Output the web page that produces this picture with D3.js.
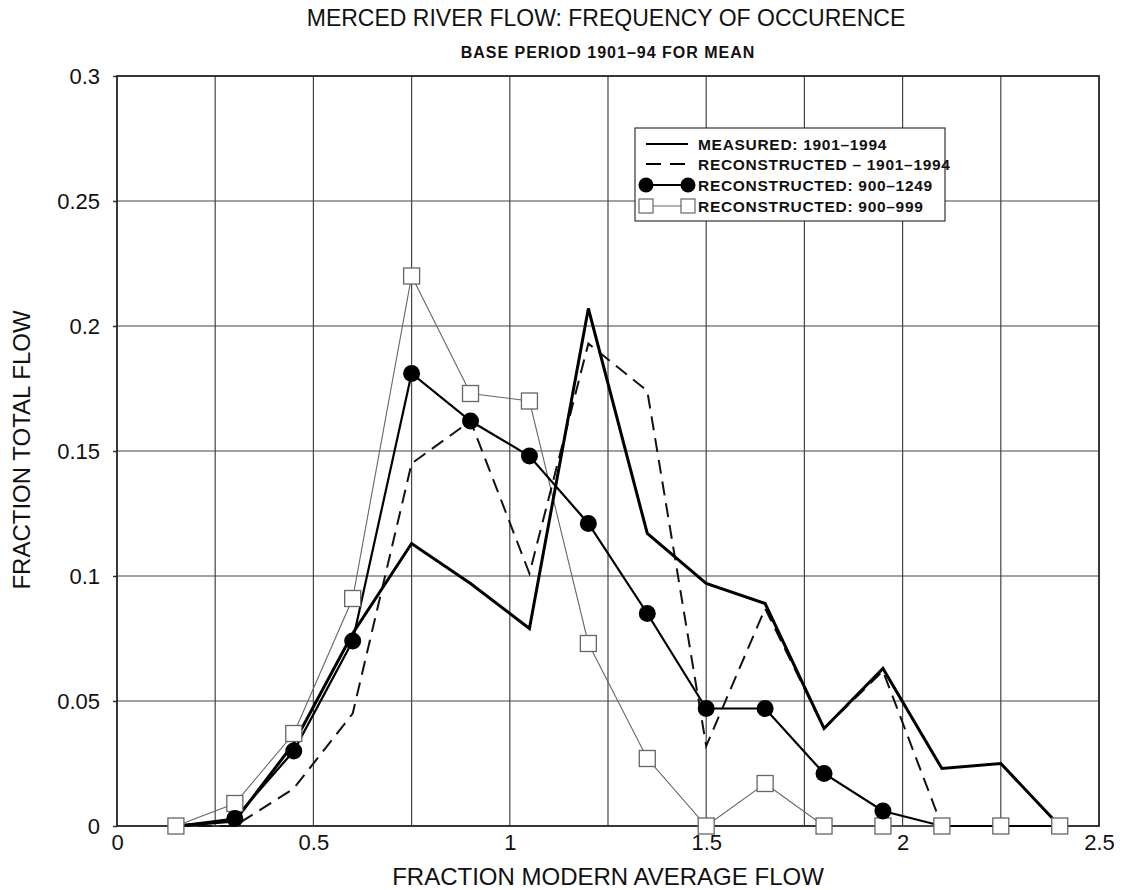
<!DOCTYPE html>
<html>
<head>
<meta charset="utf-8">
<script src="https://cdn.jsdelivr.net/npm/d3@7"></script>
<style>
  body { margin: 0; background: #fff; }
  svg text { font-family: "Liberation Sans", Arial, sans-serif; fill: #111; }
</style>
</head>
<body>
<div id="chart"></div>
<script>
// bin centres (fraction of modern average flow)
const flowBins = [0.15, 0.3, 0.45, 0.6, 0.75, 0.9, 1.05, 1.2, 1.35, 1.5, 1.65, 1.8, 1.95, 2.1, 2.25, 2.4];

const measured1901 = [0, 0.002, 0.033, 0.077, 0.113, 0.097, 0.079, 0.207, 0.117, 0.097, 0.089, 0.039, 0.063, 0.023, 0.025, 0];
const recon1901 = [0, 0, 0.015, 0.045, 0.145, 0.162, 0.101, 0.193, 0.174, 0.032, 0.087, 0.039, 0.062, 0, 0, 0];
const recon900to1249 = [0, 0.003, 0.030, 0.074, 0.181, 0.162, 0.148, 0.121, 0.085, 0.047, 0.047, 0.021, 0.006, 0, 0, 0];
const recon900to999 = [0, 0.009, 0.037, 0.091, 0.220, 0.173, 0.170, 0.073, 0.027, 0, 0.017, 0, 0, 0, 0, 0];

const xTicks = [0, 0.5, 1, 1.5, 2, 2.5];
const xTickLabels = ["0", "0.5", "1", "1.5", "2", "2.5"];
const xGrid = [0.25, 0.5, 0.75, 1, 1.25, 1.5, 1.75, 2, 2.25];
const yTicks = [0, 0.05, 0.1, 0.15, 0.2, 0.25, 0.3];
const yTickLabels = ["0", "0.05", "0.1", "0.15", "0.2", "0.25", "0.3"];

const legendLabels = ["MEASURED: 1901\u20131994", "RECONSTRUCTED \u2013 1901\u20131994",
  "RECONSTRUCTED: 900\u20131249", "RECONSTRUCTED: 900\u2013999"];

const W = 1123, H = 890;
const plotLeft = 117, plotRight = 1099, plotTop = 76, plotBottom = 826;

const x = d3.scaleLinear().domain([0, 2.5]).range([plotLeft, plotRight]);
const y = d3.scaleLinear().domain([0, 0.3]).range([plotBottom, plotTop]);

const svg = d3.select("#chart").append("svg")
  .attr("width", W)
  .attr("height", H);

// grid
svg.append("g")
  .selectAll("line")
  .data(xGrid)
  .enter().append("line")
  .attr("x1", d => x(d)).attr("x2", d => x(d))
  .attr("y1", plotTop).attr("y2", plotBottom)
  .attr("stroke", "#444").attr("stroke-width", 1.2);

svg.append("g")
  .selectAll("line")
  .data(yTicks.slice(1, -1))
  .enter().append("line")
  .attr("x1", plotLeft).attr("x2", plotRight)
  .attr("y1", d => y(d)).attr("y2", d => y(d))
  .attr("stroke", "#444").attr("stroke-width", 1.2);

// axes
const xAxis = svg.append("g")
  .attr("transform", "translate(0," + plotBottom + ")")
  .call(d3.axisBottom(x).tickValues(xTicks).tickFormat((d, i) => xTickLabels[i]).tickSize(0).tickPadding(8));
xAxis.select(".domain").remove();
xAxis.selectAll("text").attr("font-size", 22).attr("fill", "#111");

const yAxis = svg.append("g")
  .attr("transform", "translate(" + plotLeft + ",0)")
  .call(d3.axisLeft(y).tickValues(yTicks).tickFormat((d, i) => yTickLabels[i]).tickSize(4).tickPadding(13));
yAxis.select(".domain").remove();
yAxis.selectAll("line").attr("stroke", "#333").attr("stroke-width", 1.5);
yAxis.selectAll("text").attr("font-size", 22).attr("fill", "#111");

svg.append("rect")
  .attr("x", plotLeft).attr("y", plotTop)
  .attr("width", plotRight - plotLeft).attr("height", plotBottom - plotTop)
  .attr("fill", "none").attr("stroke", "#222").attr("stroke-width", 1.8);

// series
function pts(values) {
  return values.map((v, i) => [flowBins[i], v]);
}
const line = d3.line().x(d => x(d[0])).y(d => y(d[1]));

svg.append("path")
  .attr("d", line(pts(recon900to999)))
  .attr("fill", "none").attr("stroke", "#666").attr("stroke-width", 1.1);

svg.append("path")
  .attr("d", line(pts(recon1901)))
  .attr("fill", "none").attr("stroke", "#111").attr("stroke-width", 2)
  .attr("stroke-dasharray", "14,8");

svg.append("path")
  .attr("d", line(pts(measured1901)))
  .attr("fill", "none").attr("stroke", "#000").attr("stroke-width", 3)
  .attr("stroke-linejoin", "miter");

svg.append("path")
  .attr("d", line(pts(recon900to1249)))
  .attr("fill", "none").attr("stroke", "#000").attr("stroke-width", 2.2);

svg.append("g")
  .selectAll("rect")
  .data(pts(recon900to999))
  .enter().append("rect")
  .attr("x", d => x(d[0]) - 8).attr("y", d => y(d[1]) - 8)
  .attr("width", 16).attr("height", 16)
  .attr("fill", "#fff").attr("stroke", "#666").attr("stroke-width", 1.3);

svg.append("g")
  .selectAll("circle")
  .data(pts(recon900to1249).filter(d => d[1] > 0))
  .enter().append("circle")
  .attr("cx", d => x(d[0])).attr("cy", d => y(d[1]))
  .attr("r", 8.5)
  .attr("fill", "#000");

// legend
const lg = svg.append("g");
lg.append("rect")
  .attr("x", 635).attr("y", 128).attr("width", 310).attr("height", 93)
  .attr("fill", "#fff").attr("stroke", "#333").attr("stroke-width", 1.2);

const rowY = [144, 164, 185, 206];
const symX0 = 646, symX1 = 688;

lg.append("line").attr("x1", symX0).attr("x2", symX1).attr("y1", rowY[0]).attr("y2", rowY[0])
  .attr("stroke", "#000").attr("stroke-width", 2.2);
lg.append("line").attr("x1", symX0).attr("x2", symX1).attr("y1", rowY[1]).attr("y2", rowY[1])
  .attr("stroke", "#000").attr("stroke-width", 2).attr("stroke-dasharray", "15,9");
lg.append("line").attr("x1", symX0).attr("x2", symX1).attr("y1", rowY[2]).attr("y2", rowY[2])
  .attr("stroke", "#000").attr("stroke-width", 2);
lg.selectAll("circle.leg")
  .data([symX0, symX1])
  .enter().append("circle")
  .attr("cx", d => d).attr("cy", rowY[2]).attr("r", 7.5).attr("fill", "#000");
lg.append("line").attr("x1", symX0).attr("x2", symX1).attr("y1", rowY[3]).attr("y2", rowY[3])
  .attr("stroke", "#666").attr("stroke-width", 1.1);
lg.selectAll("rect.leg")
  .data([symX0, symX1])
  .enter().append("rect")
  .attr("x", d => d - 7).attr("y", rowY[3] - 7).attr("width", 14).attr("height", 14)
  .attr("fill", "#fff").attr("stroke", "#666").attr("stroke-width", 1.2);

lg.selectAll("text")
  .data(legendLabels)
  .enter().append("text")
  .attr("x", 698)
  .attr("y", (d, i) => rowY[i])
  .attr("dy", "0.36em")
  .attr("font-size", 15.5)
  .attr("font-weight", "bold")
  .attr("letter-spacing", 0.7)
  .text(d => d);

// titles
svg.append("text")
  .attr("x", 606).attr("y", 26)
  .attr("text-anchor", "middle")
  .attr("font-size", 23)
  .text("MERCED RIVER FLOW: FREQUENCY OF OCCURENCE");

svg.append("text")
  .attr("x", 608).attr("y", 58)
  .attr("text-anchor", "middle")
  .attr("font-size", 16)
  .attr("font-weight", "bold")
  .attr("letter-spacing", 1)
  .text("BASE PERIOD 1901\u201394 FOR MEAN");

svg.append("text")
  .attr("x", 608).attr("y", 885)
  .attr("text-anchor", "middle")
  .attr("font-size", 24)
  .text("FRACTION MODERN AVERAGE FLOW");

svg.append("text")
  .attr("transform", "translate(30,450) rotate(-90)")
  .attr("text-anchor", "middle")
  .attr("font-size", 24)
  .text("FRACTION TOTAL FLOW");
</script>
</body>
</html>
